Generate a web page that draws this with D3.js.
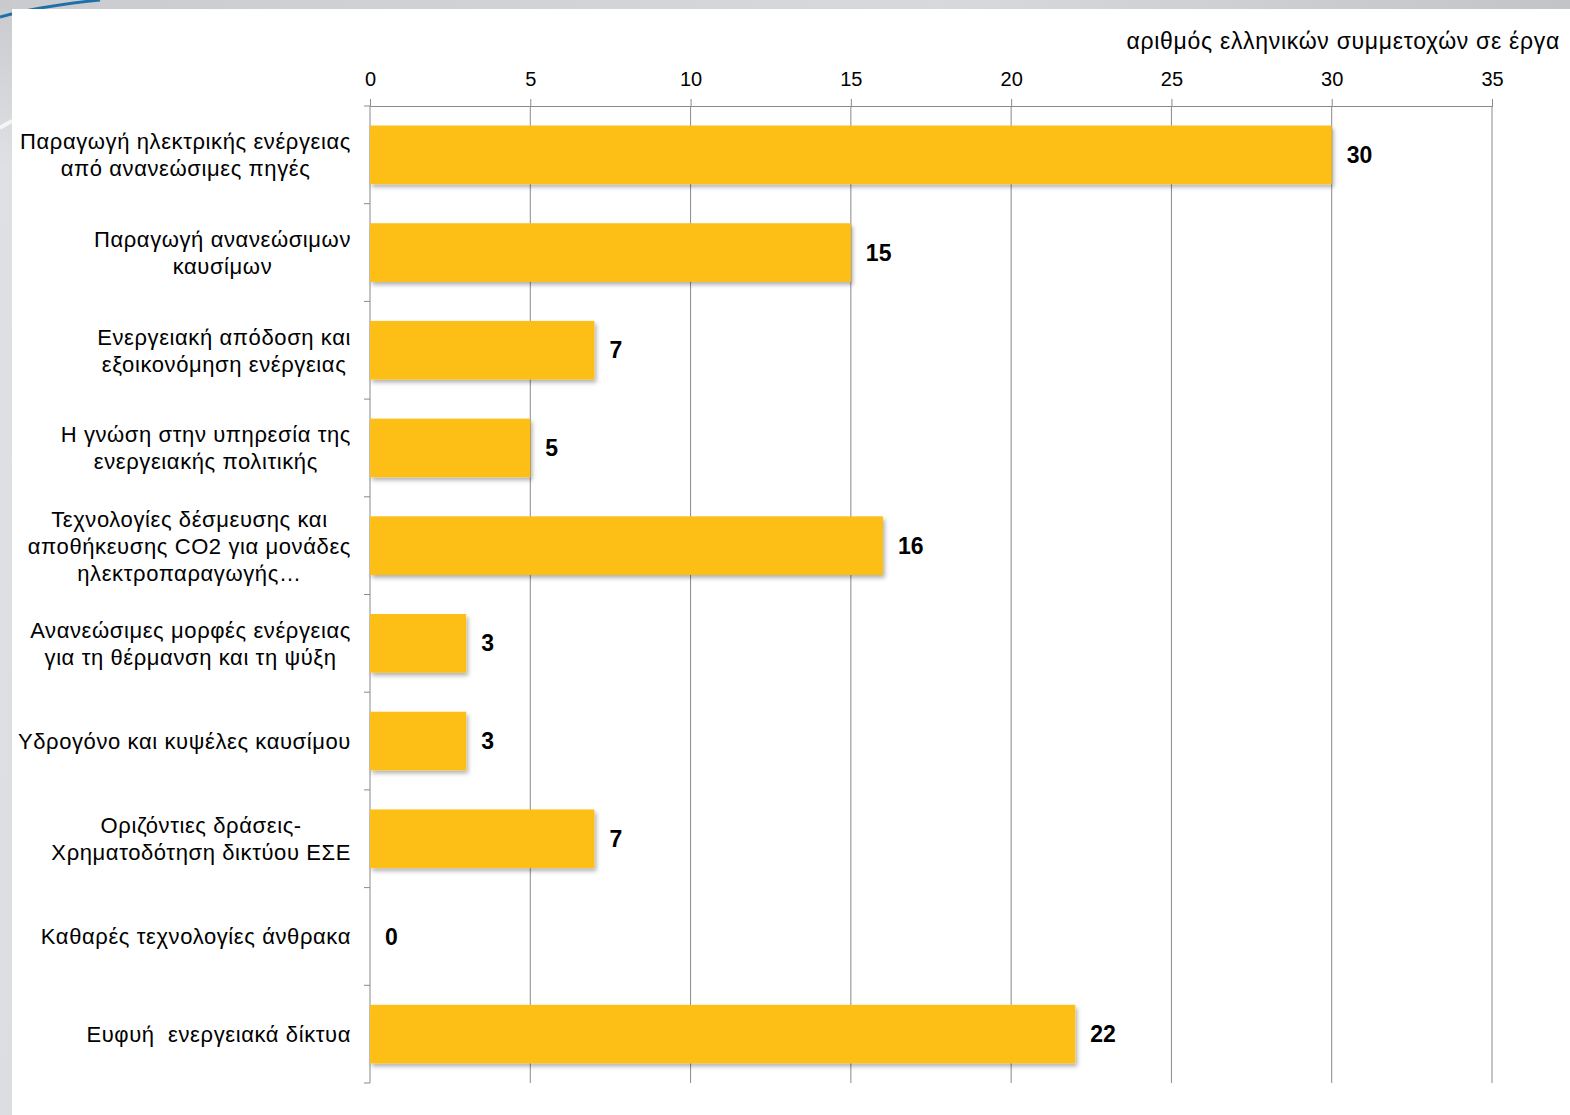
<!DOCTYPE html>
<html>
<head>
<meta charset="utf-8">
<script src="https://cdn.jsdelivr.net/npm/d3@7"></script>
<style>
  body { margin: 0; padding: 0; background: #fff; }
  svg { display: block; font-family: "Liberation Sans", Arial, sans-serif; }
</style>
</head>
<body>
<svg id="chart"></svg>
<script>
const categories = [
  "Παραγωγή ηλεκτρικής ενέργειας\nαπό ανανεώσιμες πηγές",
  "Παραγωγή ανανεώσιμων\nκαυσίμων",
  "Ενεργειακή απόδοση και\nεξοικονόμηση ενέργειας",
  "Η γνώση στην υπηρεσία της\nενεργειακής πολιτικής",
  "Τεχνολογίες δέσμευσης και\nαποθήκευσης CO2 για μονάδες\nηλεκτροπαραγωγής…",
  "Ανανεώσιμες μορφές ενέργειας\nγια τη θέρμανση και τη ψύξη",
  "Υδρογόνο και κυψέλες καυσίμου",
  "Οριζόντιες δράσεις-\nΧρηματοδότηση δικτύου ΕΣΕ",
  "Καθαρές τεχνολογίες άνθρακα",
  "Ευφυή  ενεργειακά δίκτυα"
]
const values = [30, 15, 7, 5, 16, 3, 3, 7, 0, 22]
const xTicks = [0, 5, 10, 15, 20, 25, 30, 35]
const axisTitle = "αριθμός ελληνικών συμμετοχών σε έργα"

const svgWidth = 1570, svgHeight = 1115
const margin = {top: 106, right: 78, bottom: 32, left: 370}
const innerWidth = svgWidth - margin.left - margin.right
const innerHeight = svgHeight - margin.top - margin.bottom

const svg = d3.select('#chart').attr('width', svgWidth).attr('height', svgHeight)

// slide background: grey frame and blue swoosh
const defs = svg.append('defs')
const topGrad = defs.append('linearGradient').attr('id', 'topGrad')
topGrad.append('stop').attr('offset', '0%').attr('stop-color', '#c9cbcf')
topGrad.append('stop').attr('offset', '60%').attr('stop-color', '#d8d9dc')
topGrad.append('stop').attr('offset', '100%').attr('stop-color', '#c2c4c8')
const leftGrad = defs.append('linearGradient').attr('id', 'leftGrad').attr('x1', 0).attr('x2', 0).attr('y1', 0).attr('y2', 1)
leftGrad.append('stop').attr('offset', '0%').attr('stop-color', '#c8cacd')
leftGrad.append('stop').attr('offset', '15%').attr('stop-color', '#dfe0e3')
leftGrad.append('stop').attr('offset', '100%').attr('stop-color', '#dcdde0')
const shadow = defs.append('filter').attr('id', 'shadow').attr('x', '-5%').attr('y', '-10%').attr('width', '115%').attr('height', '140%')
shadow.append('feDropShadow').attr('dx', 2).attr('dy', 3).attr('stdDeviation', 2)
  .attr('flood-color', '#000').attr('flood-opacity', 0.3)

svg.append('rect').attr('width', svgWidth).attr('height', 9).attr('fill', 'url(#topGrad)')
svg.append('rect').attr('y', 0).attr('width', 12).attr('height', svgHeight).attr('fill', 'url(#leftGrad)')
svg.append('path').attr('d', 'M0,17 Q40,6 100,0').attr('fill', 'none').attr('stroke', '#1f6fa8').attr('stroke-width', 3)
svg.append('path').attr('d', 'M0,128 Q6,124 12,121').attr('fill', 'none').attr('stroke', '#f4f5f6').attr('stroke-width', 4)
svg.append('rect').attr('x', 12).attr('y', 9).attr('width', svgWidth - 12).attr('height', svgHeight - 9).attr('fill', '#fff')

const xScale = d3.scaleLinear().domain([0, 35]).range([0, 1122])
const yScale = d3.scaleBand().domain(categories).range([0, innerHeight]).paddingInner(0.4).paddingOuter(0.2)

const chartGroup = svg.append('g').attr('transform', `translate(${margin.left}, ${margin.top})`)

// vertical gridlines
chartGroup.append('g')
  .selectAll('line')
  .data(xTicks.slice(1))
  .join('line')
  .attr('x1', d => xScale(d)).attr('x2', d => xScale(d))
  .attr('y1', 0).attr('y2', innerHeight)
  .attr('stroke', '#8a8a8a').attr('stroke-width', 1)

// top axis
const xAxis = chartGroup.append('g')
  .call(d3.axisTop(xScale).tickValues(xTicks).tickSize(7).tickPadding(13))
xAxis.select('.domain').attr('stroke', '#8a8a8a')
xAxis.selectAll('.tick line').attr('stroke', '#8a8a8a')
xAxis.selectAll('text').style('font-size', '20px').style('fill', '#000')
  .style('font-family', '"Liberation Sans", Arial, sans-serif')

chartGroup.append('text')
  .attr('x', svgWidth - 10 - margin.left).attr('y', 41 - margin.top)
  .attr('dy', '0.35em')
  .style('text-anchor', 'end').style('font-size', '23px').style('letter-spacing', '0.7px').style('fill', '#000')
  .text(axisTitle)

// left axis with ticks at category boundaries
const boundaries = d3.range(categories.length + 1).map(i => i * innerHeight / categories.length)
chartGroup.append('line')
  .attr('x1', 0).attr('x2', 0).attr('y1', 0).attr('y2', innerHeight)
  .attr('stroke', '#8a8a8a')
chartGroup.append('g').selectAll('line')
  .data(boundaries)
  .join('line')
  .attr('x1', -6).attr('x2', 0)
  .attr('y1', d => d).attr('y2', d => d)
  .attr('stroke', '#8a8a8a')

// category labels: block right-aligned, each line centred inside it
const lineH = 27
const labelRight = -19
chartGroup.append('g').selectAll('g')
  .data(categories)
  .join('g')
  .each(function (d) {
    const lines = d.split('\n')
    const cy = yScale(d) + yScale.bandwidth() / 2
    const offset = -(lines.length - 1) * lineH / 2
    const texts = d3.select(this).selectAll('text')
      .data(lines)
      .join('text')
      .attr('y', (l, i) => cy + offset + i * lineH + 8)
      .attr('xml:space', 'preserve')
      .style('text-anchor', 'middle').style('font-size', '22px').style('letter-spacing', '0.6px').style('fill', '#000')
      .text(l => l)
    let maxW = 0
    texts.each(function () { maxW = Math.max(maxW, this.getComputedTextLength()) })
    texts.attr('x', labelRight - maxW / 2)
  })

// bars
chartGroup.selectAll('rect.bar')
  .data(values)
  .join('rect')
  .attr('class', 'bar')
  .attr('x', 0)
  .attr('y', (d, i) => yScale(categories[i]))
  .attr('width', d => xScale(d))
  .attr('height', yScale.bandwidth())
  .attr('fill', d => d > 0 ? '#fdbf12' : 'none')
  .attr('filter', 'url(#shadow)')

// value labels
chartGroup.selectAll('text.val')
  .data(values)
  .join('text')
  .attr('class', 'val')
  .attr('x', d => xScale(d) + 15)
  .attr('y', (d, i) => yScale(categories[i]) + yScale.bandwidth() / 2)
  .attr('dy', '0.35em')
  .style('font-size', '23px').style('font-weight', 'bold').style('fill', '#000')
  .text(d => d)
</script>
</body>
</html>
